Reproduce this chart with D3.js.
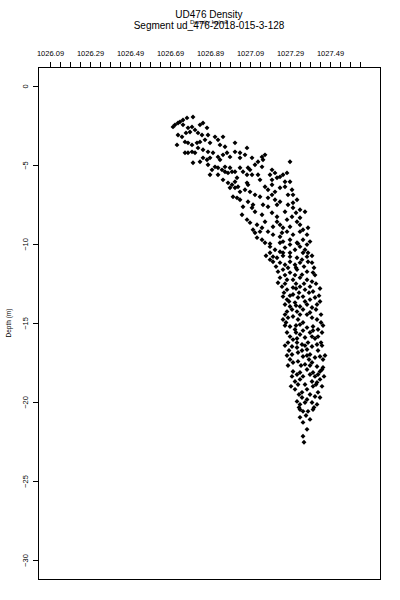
<!DOCTYPE html>
<html>
<head>
<meta charset="utf-8">
<script src="https://cdn.jsdelivr.net/npm/d3@7"></script>
<style>
	body { margin: 0; background: #ffffff; }
	svg text { font-family: "Liberation Sans", Arial, sans-serif; fill: #000000; }
</style>
</head>
<body>
<svg id="chart" width="400" height="600"></svg>
<script>
// Titles and axis text.
var TITLE = "UD476 Density";
var SUBTITLE = "Segment ud_476-2018-015-3-128";
var X_LABEL = "Density kg/m3";
var Y_LABEL = "Depth (m)";

// Axis ticks (density on top, depth on the left).
var X_TICK_START = 1026.09;
var X_TICK_STEP = 0.05;
var X_TICK_COUNT = 32;
var X_TICK_LABELS = ["1026.09", "1026.29", "1026.49", "1026.69", "1026.89", "1027.09", "1027.29", "1027.49"];
var Y_TICKS = [0, -5, -10, -15, -20, -25, -30];
var X_DOMAIN = [1026.03, 1027.74];
var Y_DOMAIN = [1.2, -31.2];

var shallow = [
	[1026.805,-1.96],[1026.775,-2.02],[1026.755,-2.15],[1026.74,-2.27],[1026.73,-2.34],[1026.715,-2.46],
	[1026.705,-2.59],[1026.84,-2.46],[1026.855,-2.34],[1026.80,-2.59],[1026.78,-2.65],[1026.79,-2.91],
	[1026.815,-2.78],[1026.83,-2.97],[1026.85,-3.10],[1026.875,-2.65],[1026.88,-3.10],[1026.73,-3.10],
	[1026.75,-3.22],[1026.725,-3.73],[1026.765,-3.54],[1026.78,-3.60],[1026.80,-3.73],[1026.825,-3.60],
	[1026.84,-3.54],[1026.915,-3.22],[1026.93,-3.41],[1026.955,-3.22],[1026.94,-3.73],[1026.965,-3.85],
	[1027.015,-3.60],[1026.765,-4.23],[1026.78,-4.23],[1026.80,-4.17],[1026.815,-4.23],[1026.83,-3.92],
	[1026.855,-4.04],[1026.88,-4.17],[1026.905,-4.23],[1026.855,-4.55],[1026.875,-4.67],[1026.89,-4.55],
	[1026.805,-4.86],[1026.84,-4.80],[1026.93,-4.49],[1026.955,-4.36],[1026.975,-4.23],[1026.99,-4.49],
	[1027.015,-4.17],[1027.04,-4.23],[1027.065,-4.36],[1027.075,-3.92],[1027.10,-4.55],[1027.15,-4.49],
	[1027.165,-4.36],[1027.13,-4.80],[1027.115,-4.99],[1027.29,-4.80],[1026.915,-5.12],[1026.93,-5.18],
	[1026.95,-5.31],[1026.965,-5.43],[1026.98,-5.50],[1027.00,-5.43],[1026.89,-5.62],[1026.93,-5.62],
	[1027.055,-5.43],[1027.08,-5.18],[1027.075,-5.62],[1027.20,-5.31],[1027.025,-5.81],[1027.13,-5.62],
	[1027.275,-5.50],[1027.255,-5.62],[1027.24,-5.75],[1027.225,-5.81],[1027.20,-5.94],[1027.14,-5.94],
	[1026.94,-4.67],[1026.88,-4.99],[1026.90,-5.31],[1027.04,-4.55],[1026.965,-5.12],[1026.99,-5.18],
	[1027.015,-5.43],[1027.04,-5.18],[1027.09,-5.31],[1027.10,-5.62],[1027.155,-4.67],[1027.15,-5.12],
	[1027.19,-5.62],[1027.215,-5.50],[1026.755,-2.46],[1026.77,-2.97],[1026.865,-3.41],[1026.89,-3.60]
];

var middle = [
	[1027.29,-6.06],[1027.30,-6.57],[1027.305,-6.89],[1027.015,-6.06],[1027.00,-6.25],[1026.99,-6.44],
	[1027.015,-6.44],[1027.03,-6.38],[1027.165,-6.38],[1027.18,-6.57],[1027.215,-6.70],[1027.24,-6.44],
	[1027.265,-6.38],[1027.065,-6.57],[1027.04,-6.70],[1027.005,-7.01],[1027.025,-7.08],[1027.04,-7.20],
	[1027.08,-7.33],[1027.105,-7.52],[1027.18,-7.08],[1027.215,-7.20],[1027.24,-7.33],[1027.225,-7.52],
	[1027.155,-7.52],[1027.18,-7.64],[1027.28,-7.52],[1027.305,-7.39],[1027.325,-7.20],[1026.955,-5.94],
	[1026.98,-6.13],[1027.075,-6.13],[1027.09,-6.70],[1027.265,-6.06],[1027.28,-6.89],[1027.055,-7.64],
	[1027.10,-7.71],[1027.14,-7.01],[1027.34,-7.83],[1027.305,-7.71],[1027.05,-8.15],[1027.075,-8.46],
	[1027.09,-8.65],[1027.105,-9.10],[1027.14,-9.22],[1027.20,-8.02],[1027.225,-8.28],[1027.225,-8.59],
	[1027.24,-8.78],[1027.205,-8.91],[1027.275,-8.46],[1027.30,-8.28],[1027.325,-8.59],[1027.34,-8.78],
	[1027.355,-9.10],[1027.375,-9.41],[1027.355,-9.73],[1027.125,-9.60],[1027.15,-9.73],[1027.165,-9.92],
	[1027.19,-10.17],[1027.215,-10.36],[1027.24,-10.49],[1027.265,-10.23],[1027.24,-9.54],[1027.255,-9.85],
	[1027.29,-9.73],[1027.305,-9.41],[1027.34,-10.17],[1027.365,-10.36],[1027.38,-10.55],[1027.225,-10.87],
	[1027.29,-10.80],[1027.325,-10.87],[1027.115,-9.29],[1027.205,-9.41],[1027.25,-9.29],[1027.275,-9.22],
	[1027.34,-9.22],[1027.24,-9.92],[1027.29,-10.04],[1027.325,-9.92],[1027.375,-10.04],[1027.39,-9.85],
	[1027.19,-10.55],[1027.205,-10.80],[1027.255,-10.55],[1027.29,-10.55],[1027.355,-10.55],[1027.375,-10.80],
	[1027.38,-11.12],[1027.40,-11.18],[1027.205,-11.12],[1027.24,-11.18],[1027.265,-11.31],[1027.29,-11.12],
	[1027.315,-11.31],[1027.34,-11.18],[1027.23,-11.75],[1027.255,-11.62],[1027.29,-11.81],[1027.325,-11.62],
	[1027.35,-11.94],[1027.375,-11.75],[1027.405,-11.81],[1027.24,-12.13],[1027.275,-12.26],[1027.305,-12.26],
	[1027.34,-12.13],[1027.375,-12.26],[1027.40,-12.38],[1027.15,-8.15],[1027.165,-8.59],[1027.125,-8.78],
	[1027.18,-9.22],[1027.265,-7.96],[1027.255,-8.97],[1027.29,-8.91],[1027.32,-8.02],[1027.34,-8.34],
	[1027.315,-10.36],[1027.22,-11.43],[1027.36,-11.43],[1027.265,-11.97],[1027.315,-11.97],[1027.415,-11.97],
	[1027.19,-9.98],[1027.33,-9.98],[1027.17,-10.74],[1027.255,-10.74],[1027.40,-10.74],[1027.19,-10.99],
	[1027.35,-10.99],[1027.28,-11.50],[1027.32,-11.50],[1027.41,-11.50],[1027.23,-12.45],[1027.15,-8.97],
	[1027.38,-8.97],[1027.115,-7.96],[1027.365,-7.96],[1027.115,-6.89],[1027.20,-6.89],[1027.08,-6.25],
	[1027.20,-6.25]
];

var deep = [
	[1027.25,-12.70],[1027.275,-12.89],[1027.305,-12.76],[1027.34,-12.70],[1027.365,-12.89],[1027.39,-12.70],
	[1027.405,-13.01],[1027.255,-13.33],[1027.275,-13.52],[1027.305,-13.20],[1027.33,-13.39],[1027.355,-13.33],
	[1027.39,-13.52],[1027.415,-13.39],[1027.265,-13.83],[1027.29,-13.96],[1027.315,-13.71],[1027.34,-13.96],
	[1027.375,-13.83],[1027.40,-14.02],[1027.425,-13.83],[1027.275,-14.28],[1027.325,-14.28],[1027.355,-14.15],
	[1027.39,-14.34],[1027.255,-14.78],[1027.28,-14.66],[1027.305,-14.59],[1027.33,-14.78],[1027.375,-14.47],
	[1027.40,-14.66],[1027.425,-14.78],[1027.29,-15.22],[1027.315,-15.41],[1027.34,-15.10],[1027.375,-15.29],
	[1027.405,-15.22],[1027.43,-15.41],[1027.29,-15.86],[1027.305,-16.05],[1027.34,-15.73],[1027.365,-15.92],
	[1027.40,-15.86],[1027.43,-15.86],[1027.30,-16.49],[1027.325,-16.55],[1027.35,-16.36],[1027.375,-16.68],
	[1027.40,-16.49],[1027.425,-16.36],[1027.30,-16.99],[1027.33,-16.87],[1027.355,-17.12],[1027.39,-16.99],
	[1027.415,-17.18],[1027.44,-17.12],[1027.305,-17.50],[1027.33,-17.43],[1027.365,-17.62],[1027.40,-17.50],
	[1027.425,-17.75],[1027.45,-17.94],[1027.305,-18.07],[1027.34,-18.13],[1027.375,-17.94],[1027.405,-18.13],
	[1027.44,-18.07],[1027.455,-17.81],[1027.315,-18.70],[1027.34,-18.57],[1027.365,-18.89],[1027.40,-18.70],
	[1027.425,-18.76],[1027.44,-18.57],[1027.315,-19.20],[1027.35,-19.39],[1027.375,-19.20],[1027.39,-19.52],
	[1027.415,-19.65],[1027.325,-19.96],[1027.34,-20.15],[1027.375,-19.84],[1027.40,-20.03],[1027.425,-20.15],
	[1027.355,-20.59],[1027.38,-20.59],[1027.355,-21.29],[1027.39,-21.10],[1027.355,-22.17],[1027.36,-22.55],
	[1027.265,-12.51],[1027.32,-12.51],[1027.36,-12.51],[1027.42,-12.51],[1027.26,-13.08],[1027.335,-13.08],
	[1027.385,-13.08],[1027.285,-13.64],[1027.365,-13.64],[1027.44,-13.64],[1027.30,-14.15],[1027.42,-14.15],
	[1027.27,-14.97],[1027.355,-14.97],[1027.445,-14.97],[1027.275,-15.60],[1027.32,-15.60],[1027.39,-15.60],
	[1027.45,-15.60],[1027.28,-16.24],[1027.325,-16.24],[1027.38,-16.24],[1027.445,-16.24],[1027.285,-16.74],
	[1027.35,-16.74],[1027.43,-16.74],[1027.29,-17.31],[1027.385,-17.31],[1027.455,-17.31],[1027.30,-18.38],
	[1027.355,-18.38],[1027.415,-18.38],[1027.46,-18.38],[1027.295,-19.01],[1027.405,-19.01],[1027.45,-19.01],
	[1027.35,-19.71],[1027.44,-19.71],[1027.335,-20.34],[1027.41,-20.34],[1027.37,-20.85],[1027.375,-21.73],
	[1027.32,-12.82],[1027.44,-12.82],[1027.29,-13.27],[1027.435,-13.27],[1027.32,-13.90],[1027.265,-14.47],
	[1027.34,-14.47],[1027.445,-14.47],[1027.265,-15.16],[1027.32,-15.16],[1027.455,-15.16],[1027.355,-15.48],
	[1027.405,-15.48],[1027.325,-15.98],[1027.415,-15.98],[1027.265,-16.43],[1027.365,-16.43],[1027.45,-16.43],
	[1027.275,-17.06],[1027.375,-17.06],[1027.465,-17.06],[1027.28,-17.69],[1027.345,-17.69],[1027.39,-17.69],
	[1027.325,-18.26],[1027.39,-18.26],[1027.43,-18.26],[1027.33,-18.89],[1027.42,-18.89],[1027.43,-19.39],
	[1027.335,-19.52],[1027.365,-20.03],[1027.34,-20.47],[1027.405,-20.47],[1027.34,-20.97]
];

var PLOT = {left: 38, top: 67, right: 380, bottom: 579};

var svg = d3.select("#chart");

var x = d3.scaleLinear().domain(X_DOMAIN).range([PLOT.left, PLOT.right]);
var y = d3.scaleLinear().domain(Y_DOMAIN).range([PLOT.top, PLOT.bottom]);

// Titles.
svg.append("text")
	.attr("x", (PLOT.left + PLOT.right) / 2)
	.attr("y", 18)
	.attr("text-anchor", "middle")
	.style("font-size", "10px")
	.text(TITLE);

svg.append("text")
	.attr("x", (PLOT.left + PLOT.right) / 2)
	.attr("y", 29)
	.attr("text-anchor", "middle")
	.style("font-size", "10px")
	.text(SUBTITLE);

svg.append("text")
	.attr("x", (PLOT.left + PLOT.right) / 2)
	.attr("y", 23.5)
	.attr("text-anchor", "middle")
	.style("font-size", "6px")
	.text(X_LABEL);

// Top axis: a tick every 0.05, a label every 0.2.
var x_ticks = d3.range(X_TICK_COUNT).map(function(i) { return X_TICK_START + i * X_TICK_STEP; });
var x_axis = d3.axisTop(x)
	.tickValues(x_ticks)
	.tickSize(5)
	.tickSizeOuter(0)
	.tickPadding(6)
	.tickFormat(function(d, i) { return i % 4 === 0 ? X_TICK_LABELS[i / 4] : ""; });

var gx = svg.append("g")
	.attr("transform", "translate(0," + PLOT.top + ")")
	.call(x_axis);
gx.select(".domain").remove();
gx.selectAll("line").attr("stroke", "#000").attr("stroke-width", 1).attr("shape-rendering", "crispEdges");
gx.selectAll("text")
	.attr("fill", "#000")
	.style("font-size", "7.5px")
	.style("font-family", "Liberation Sans, Arial, sans-serif");

// Left axis, labels turned parallel to the axis.
var y_axis = d3.axisLeft(y)
	.tickValues(Y_TICKS)
	.tickSize(5)
	.tickSizeOuter(0)
	.tickFormat(d3.format("d"));

var gy = svg.append("g")
	.attr("transform", "translate(" + PLOT.left + ",0)")
	.call(y_axis);
gy.select(".domain").remove();
gy.selectAll("line").attr("stroke", "#000").attr("stroke-width", 1).attr("shape-rendering", "crispEdges");
gy.selectAll("text")
	.attr("x", null)
	.attr("dy", null)
	.attr("fill", "#000")
	.attr("text-anchor", "middle")
	.attr("transform", "translate(-10,0) rotate(-90)")
	.style("font-size", "7.5px")
	.style("font-family", "Liberation Sans, Arial, sans-serif");

svg.append("text")
	.attr("transform", "translate(11," + ((PLOT.top + PLOT.bottom) / 2) + ") rotate(-90)")
	.attr("text-anchor", "middle")
	.style("font-size", "6.5px")
	.text(Y_LABEL);

// Plot frame.
svg.append("rect")
	.attr("x", PLOT.left)
	.attr("y", PLOT.top)
	.attr("width", PLOT.right - PLOT.left)
	.attr("height", PLOT.bottom - PLOT.top)
	.attr("fill", "none")
	.attr("stroke", "#000")
	.attr("stroke-width", 1)
	.attr("shape-rendering", "crispEdges");

// Points, small filled diamonds.
var diamond = d3.symbol().type(d3.symbolSquare).size(12);
var all_obs = shallow.concat(middle, deep);

svg.append("g")
	.selectAll("path")
	.data(all_obs)
	.enter()
	.append("path")
	.attr("d", diamond)
	.attr("fill", "#000")
	.attr("transform", function(d) { return "translate(" + x(d[0]) + "," + y(d[1]) + ") rotate(45)"; });
</script>
</body>
</html>
